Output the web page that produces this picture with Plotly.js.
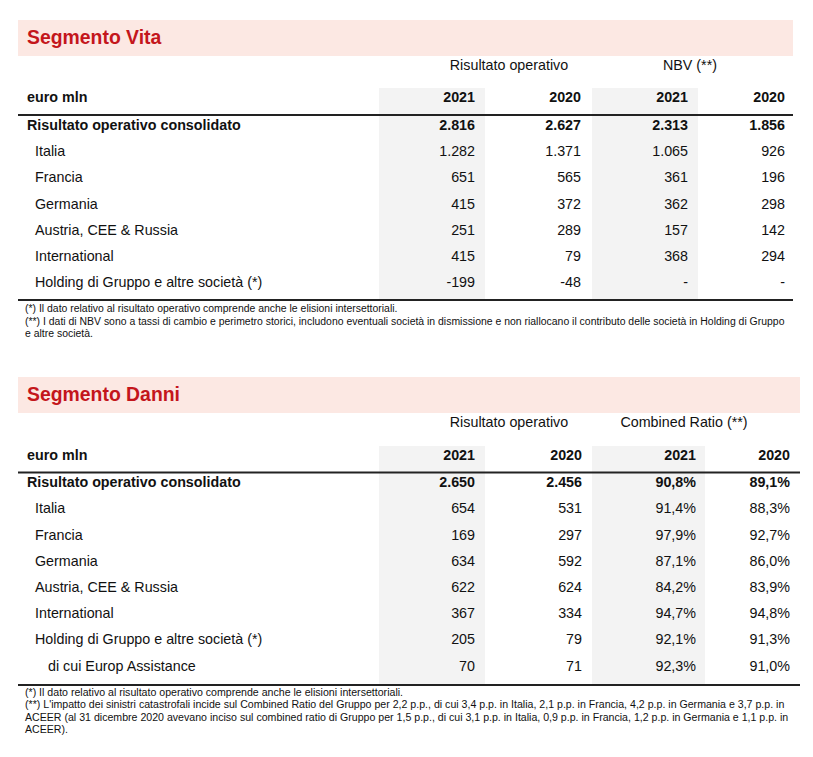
<!DOCTYPE html>
<html>
<head>
<meta charset="utf-8">
<script src="https://cdn.plot.ly/plotly-3.0.1.min.js"></script>
<style>
html,body{margin:0;padding:0;background:#fff;}
#chart{width:813px;height:757px;}
</style>
</head>
<body>
<div id="chart"></div>
<script>
// ---------------- DATA ----------------
const vitaTitle = 'Segmento Vita';
const vitaGroups = ['Risultato operativo', 'NBV (**)'];
const vitaYears = ['2021', '2020', '2021', '2020'];
const vitaRows = ['Risultato operativo consolidato', 'Italia', 'Francia', 'Germania',
  'Austria, CEE & Russia', 'International', 'Holding di Gruppo e altre società (*)'];
const vitaLevels = [0, 1, 1, 1, 1, 1, 1];
const vitaRO2021 = [2816, 1282, 651, 415, 251, 415, -199];
const vitaRO2020 = [2627, 1371, 565, 372, 289, 79, -48];
const vitaNBV2021 = [2313, 1065, 361, 362, 157, 368, null];
const vitaNBV2020 = [1856, 926, 196, 298, 142, 294, null];
const vitaNotes = [
  '(*) Il dato relativo al risultato operativo comprende anche le elisioni intersettoriali.',
  '(**) I dati di NBV sono a tassi di cambio e perimetro storici, includono eventuali società in dismissione e non riallocano il contributo delle società in Holding di Gruppo',
  'e altre società.'
];

const danniTitle = 'Segmento Danni';
const danniGroups = ['Risultato operativo', 'Combined Ratio (**)'];
const danniYears = ['2021', '2020', '2021', '2020'];
const danniRows = ['Risultato operativo consolidato', 'Italia', 'Francia', 'Germania',
  'Austria, CEE & Russia', 'International', 'Holding di Gruppo e altre società (*)',
  'di cui Europ Assistance'];
const danniLevels = [0, 1, 1, 1, 1, 1, 1, 2];
const danniRO2021 = [2650, 654, 169, 634, 622, 367, 205, 70];
const danniRO2020 = [2456, 531, 297, 592, 624, 334, 79, 71];
const danniCR2021 = [90.8, 91.4, 97.9, 87.1, 84.2, 94.7, 92.1, 92.3];
const danniCR2020 = [89.1, 88.3, 92.7, 86.0, 83.9, 94.8, 91.3, 91.0];
const danniNotes = [
  '(*) Il dato relativo al risultato operativo comprende anche le elisioni intersettoriali.',
  "(**) L'impatto dei sinistri catastrofali incide sul Combined Ratio del Gruppo per 2,2 p.p., di cui 3,4 p.p. in Italia, 2,1 p.p. in Francia, 4,2 p.p. in Germania e 3,7 p.p. in",
  'ACEER (al 31 dicembre 2020 avevano inciso sul combined ratio di Gruppo per 1,5 p.p., di cui 3,1 p.p. in Italia, 0,9 p.p. in Francia, 1,2 p.p. in Germania e 1,1 p.p. in',
  'ACEER).'
];

// ---------------- FORMATTERS ----------------
function fmtInt(v) {
  if (v === null || v === undefined) return '-';
  const s = Math.abs(v).toString().replace(/\B(?=(\d{3})+(?!\d))/g, '.');
  return (v < 0 ? '-' : '') + s;
}
function fmtPct(v) {
  if (v === null || v === undefined) return '-';
  return v.toFixed(1).replace('.', ',') + '%';
}

// ---------------- STYLE ----------------
const FONT = 'Liberation Sans, Arial, Helvetica, sans-serif';
const NARROW = 'Liberation Sans Narrow, Arial Narrow, Liberation Sans, sans-serif';
const RED = '#C4161C';
const PINK = '#FCE8E3';
const GREY = '#F3F3F3';
const INK = '#111111';
const LINE = '#222222';
const BODY = 14.3;

const sections = [
  {
    title: vitaTitle, groups: vitaGroups, years: vitaYears, rows: vitaRows, levels: vitaLevels,
    cols: [vitaRO2021.map(fmtInt), vitaRO2020.map(fmtInt), vitaNBV2021.map(fmtInt), vitaNBV2020.map(fmtInt)],
    notes: vitaNotes, noteSize: 10.45,
    geo: {
      left: 18, right: 793, bandTop: 20, bandBot: 56, titleY: 39.5,
      groupY: 66, groupX: [509, 690], headerY: 98, shadeTop: 88,
      lineTop: 115, row0: 126.3, rowH: 26.25, lineBot: 300,
      colRight: [475, 581, 688, 785], shade: [[379, 485], [592, 698]],
      note0: 309.5, noteH: 12.6
    }
  },
  {
    title: danniTitle, groups: danniGroups, years: danniYears, rows: danniRows, levels: danniLevels,
    cols: [danniRO2021.map(fmtInt), danniRO2020.map(fmtInt), danniCR2021.map(fmtPct), danniCR2020.map(fmtPct)],
    notes: danniNotes, noteSize: 10.6,
    geo: {
      left: 18, right: 800, bandTop: 377, bandBot: 413, titleY: 396.5,
      groupY: 423.5, groupX: [509, 684], headerY: 456, shadeTop: 446,
      lineTop: 472.5, row0: 483.7, rowH: 26.2, lineBot: 685,
      colRight: [475, 582, 696, 790], shade: [[379, 485], [592, 705]],
      note0: 693, noteH: 12.6
    }
  }
];

const traces = [];
const shapes = [];

function textTrace(xs, ys, texts, pos, size, family, color, bold) {
  return {
    type: 'scatter', mode: 'text', x: xs, y: ys, text: texts,
    textposition: pos, cliponaxis: false, hoverinfo: 'skip', showlegend: false,
    textfont: { family: family, size: size, color: color, weight: bold ? 'bold' : 'normal' }
  };
}

sections.forEach(function (s) {
  const g = s.geo;
  const rowY = s.rows.map(function (_, i) { return g.row0 + i * g.rowH; });

  // pink title band
  shapes.push({ type: 'rect', xref: 'x', yref: 'y', x0: g.left, x1: g.right, y0: g.bandTop, y1: g.bandBot,
    fillcolor: PINK, line: { width: 0 }, layer: 'below' });
  // grey shaded columns
  g.shade.forEach(function (c) {
    shapes.push({ type: 'rect', xref: 'x', yref: 'y', x0: c[0], x1: c[1], y0: g.shadeTop, y1: g.lineBot,
      fillcolor: GREY, line: { width: 0 }, layer: 'below' });
  });
  // rules
  shapes.push({ type: 'line', xref: 'x', yref: 'y', x0: g.left, x1: g.right, y0: g.lineTop, y1: g.lineTop,
    line: { color: LINE, width: 2 } });
  shapes.push({ type: 'line', xref: 'x', yref: 'y', x0: g.left, x1: g.right, y0: g.lineBot, y1: g.lineBot,
    line: { color: LINE, width: 2.2 } });

  // title
  traces.push(textTrace([g.left + 9], [g.titleY], [s.title], 'middle right', 19.4, FONT, RED, true));
  // group headers
  traces.push(textTrace(g.groupX, [g.groupY, g.groupY], s.groups, 'middle center', BODY, FONT, INK, false));
  // header row
  traces.push(textTrace([g.left + 9], [g.headerY], ['euro mln'], 'middle right', BODY, FONT, INK, true));
  traces.push(textTrace(g.colRight, g.colRight.map(function () { return g.headerY; }), s.years,
    'middle left', BODY, FONT, INK, true));

  // row labels
  const indent = [9, 17, 30];
  s.rows.forEach(function (r, i) {
    traces.push(textTrace([g.left + indent[s.levels[i]]], [rowY[i]], [r], 'middle right', BODY, FONT, INK, s.levels[i] === 0));
  });
  // values
  s.cols.forEach(function (col, c) {
    const boldY = rowY.slice(0, 1), normY = rowY.slice(1);
    traces.push(textTrace([g.colRight[c]], boldY, col.slice(0, 1), 'middle left', BODY, FONT, INK, true));
    traces.push(textTrace(normY.map(function () { return g.colRight[c]; }), normY, col.slice(1), 'middle left', BODY, FONT, INK, false));
  });
  // notes
  const noteY = s.notes.map(function (_, i) { return g.note0 + i * g.noteH; });
  traces.push(textTrace(noteY.map(function () { return g.left + 7; }), noteY, s.notes, 'middle right', s.noteSize, NARROW, INK, false));
});

const layout = {
  width: 813, height: 757,
  margin: { l: 0, r: 0, t: 0, b: 0, pad: 0 },
  paper_bgcolor: '#ffffff', plot_bgcolor: '#ffffff',
  xaxis: { range: [0, 813], visible: false, fixedrange: true },
  yaxis: { range: [757, 0], visible: false, fixedrange: true },
  shapes: shapes,
  showlegend: false
};

Plotly.newPlot('chart', traces, layout, { staticPlot: true, displayModeBar: false });
</script>
</body>
</html>
